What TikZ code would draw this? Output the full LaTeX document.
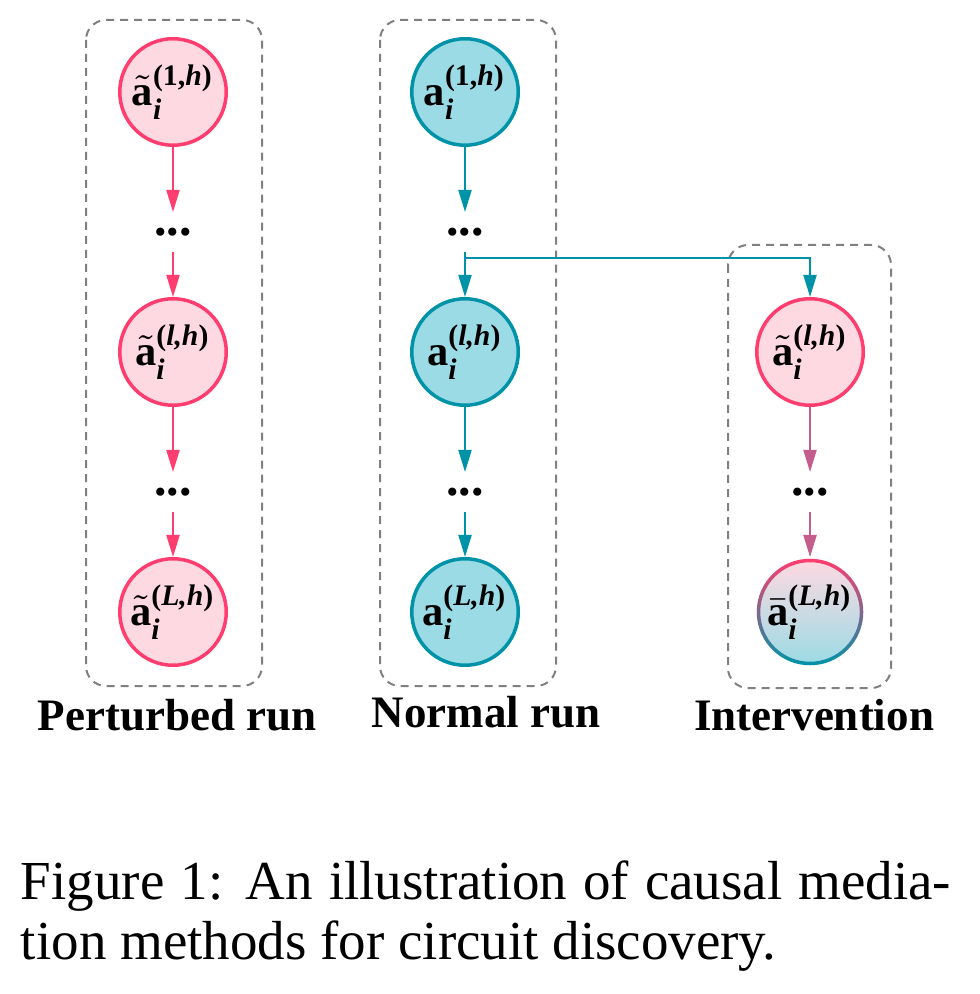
\documentclass[tikz,border=0pt]{standalone}
\usepackage{amsmath}
\usepackage{fontspec}
\setmainfont{Liberation Serif}
\usetikzlibrary{arrows.meta}

\definecolor{pline}{RGB}{255, 61, 110}
\definecolor{pfill}{RGB}{255, 217, 225}
\definecolor{nline}{RGB}{0, 147, 168}
\definecolor{nfill}{RGB}{154, 219, 229}
\definecolor{iline}{RGB}{196, 92, 140}

% bold italic index text
\newcommand{\bi}[1]{\textbf{\textit{#1}}}

\tikzset{
  actnode/.style={circle, line width=0.7pt, minimum size=21.3pt, inner sep=0pt, font=\fontsize{8.5}{9}\selectfont},
  pnode/.style={actnode, draw=pline, fill=pfill},
  nnode/.style={actnode, draw=nline, fill=nfill},
  dotsnode/.style={inner sep=0pt, minimum height=7.6pt, font=\fontsize{10}{12}\bfseries},
  runbox/.style={draw=gray, line width=0.4pt, dash pattern=on 1.6pt off 1.2pt, rounded corners=4pt},
  runlabel/.style={font=\fontsize{9}{11}\bfseries},
  flow/.style={line width=0.4pt, -{Triangle[length=4.4pt, width=2.6pt]}},
}

\begin{document}
\begin{tikzpicture}[x=0.2pt, y=-0.2pt]
    \useasboundingbox (0, 0) rectangle (980, 994);

    % dashed groups
    \draw [runbox] (86, 20) rectangle (262, 686);
    \draw [runbox] (380, 20) rectangle (556, 686);
    \draw [runbox] (728, 245) rectangle (891, 688);

    % perturbed run
    \node [pnode] (p1) at (173, 92) {$\tilde{\mathbf{a}}_{\bi{i}}^{\textbf{(1,\textit{h})}}$};
    \node [dotsnode] (pd1) at (173, 232) {...};
    \node [pnode] (pl) at (173, 352) {$\tilde{\mathbf{a}}_{\bi{i}}^{\textbf{(\textit{l,h})}}$};
    \node [dotsnode] (pd2) at (173, 492) {...};
    \node [pnode] (pL) at (173, 612) {$\tilde{\mathbf{a}}_{\bi{i}}^{\textbf{(\textit{L,h})}}$};

    \draw [flow, pline] (p1) -- (pd1);
    \draw [flow, pline] (pd1) -- (pl);
    \draw [flow, pline] (pl) -- (pd2);
    \draw [flow, pline] (pd2) -- (pL);

    % normal run
    \node [nnode] (n1) at (465, 92) {$\mathbf{a}_{\bi{i}}^{\textbf{(1,\textit{h})}}$};
    \node [dotsnode] (nd1) at (465, 232) {...};
    \node [nnode] (nl) at (465, 352) {$\mathbf{a}_{\bi{i}}^{\textbf{(\textit{l,h})}}$};
    \node [dotsnode] (nd2) at (465, 492) {...};
    \node [nnode] (nL) at (465, 612) {$\mathbf{a}_{\bi{i}}^{\textbf{(\textit{L,h})}}$};

    \draw [flow, nline] (n1) -- (nd1);
    \draw [flow, nline] (nd1) -- (nl);
    \draw [flow, nline] (nl) -- (nd2);
    \draw [flow, nline] (nd2) -- (nL);

    % intervention
    \node [pnode] (il) at (810, 352) {$\tilde{\mathbf{a}}_{\bi{i}}^{\textbf{(\textit{l,h})}}$};
    \node [dotsnode] (id) at (810, 492) {...};
    \node [actnode, top color=pfill, bottom color=nfill] (iL) at (810, 612) {};
    \shade [top color=pline, bottom color=nline, even odd rule]
      (iL.center) circle (10.65pt) (iL.center) circle (9.95pt);
    \node at (iL.center) [font=\fontsize{8.5}{9}\selectfont] {$\bar{\mathbf{a}}_{\bi{i}}^{\textbf{(\textit{L,h})}}$};

    \draw [flow, iline] (il) -- (id);
    \draw [flow, iline] (id) -- (iL);

    % patching branch
    \coordinate (br) at (465, 258);
    \draw [flow, nline] (br) -| (il.north);

    % group labels
    \node [runlabel] (plab) at (177, 715) {Perturbed run};
    \node [runlabel] (nlab) at (486, 712) {Normal run};
    \node [runlabel] (ilab) at (814, 715) {Intervention};

    % caption
    \node [anchor=north west, inner sep=0pt, text width=186pt, align=justify,
      font=\fontsize{11}{12}\selectfont] (cap) at (20, 860)
      {Figure 1: An illustration of causal media-\linebreak tion methods for circuit discovery.};
\end{tikzpicture}
\end{document}
